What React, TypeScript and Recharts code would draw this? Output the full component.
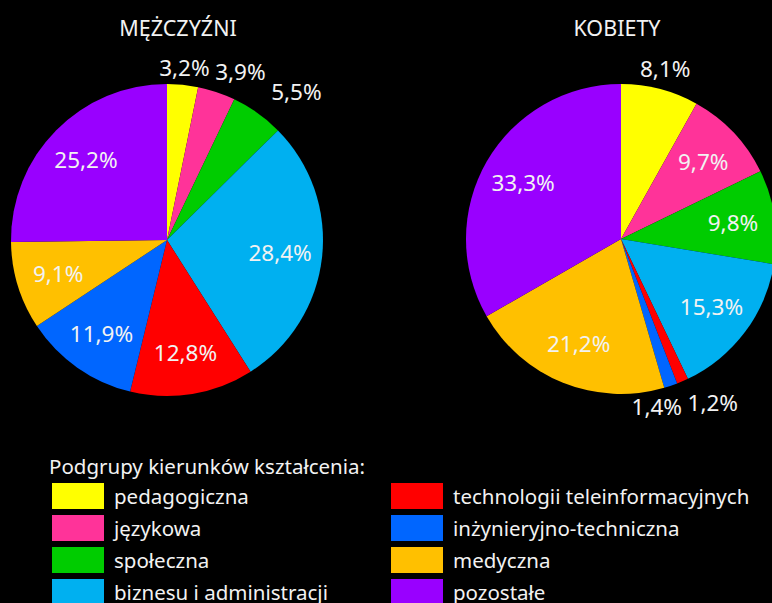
import { PieChart, Pie, Cell } from "recharts";

const CATEGORIES = [
  "pedagogiczna",
  "językowa",
  "społeczna",
  "biznesu i administracji",
  "technologii teleinformacyjnych",
  "inżynieryjno-techniczna",
  "medyczna",
  "pozostałe",
];
const COLORS = ["#FFFF00", "#FF3399", "#00CC00", "#00B0F0", "#FF0000", "#0066FF", "#FFC000", "#9900FF"];
const MEN = [3.2, 3.9, 5.5, 28.4, 12.8, 11.9, 9.1, 25.2];
const WOMEN = [8.1, 9.7, 9.8, 15.3, 1.2, 1.4, 21.2, 33.3];

const FONT = "'Noto Sans', 'Open Sans', sans-serif";
const RAD = Math.PI / 180;
const LABEL_SIZE = 22.5;
const BOX_W = 52;
const BOX_H = 24;

const fmt = (v: number) => v.toFixed(1).replace(".", ",") + "%";

// Work out label centres: big slices inside, small ones outside, nudged apart when they collide
function layoutLabels(values: number[], cx: number, cy: number, r: number) {
  const total = values.reduce((a, b) => a + b, 0);
  let acc = 0;
  const out: { x: number; y: number; outside: boolean; dir: number }[] = [];
  values.forEach((v) => {
    const a = ((acc + v / 2) / total) * 360 * RAD; // clockwise from top
    acc += v;
    const dx = Math.sin(a);
    const dy = -Math.cos(a);
    if (v < 9) {
      const dist = r + 5 + 22 * Math.abs(dx) + 10.5 * Math.abs(dy);
      out.push({ x: cx + dist * dx, y: cy + dist * dy, outside: true, dir: Math.cos(a) >= 0 ? 1 : -1 });
    } else {
      const k = r * 0.73;
      out.push({ x: cx + k * dx, y: cy + k * dy, outside: false, dir: 0 });
    }
  });
  for (let i = 1; i < out.length; i++) {
    const p = out[i - 1];
    const c = out[i];
    if (!p.outside || !c.outside) continue;
    if (Math.abs(p.y - c.y) >= BOX_H) continue;
    const overlap = BOX_W + 4 - Math.abs(p.x - c.x);
    if (overlap <= 0) continue;
    if (values[i] < 2 && values[i - 1] < 2) {
      p.x -= (c.dir * overlap) / 2;
      c.x += (c.dir * overlap) / 2;
    } else {
      c.x += c.dir * overlap;
    }
  }
  return out;
}

function makeLabel(values: number[], cx: number, cy: number, r: number) {
  const pos = layoutLabels(values, cx, cy, r);
  return (props: any) => {
    const p = pos[props.index];
    return (
      <text
        x={p.x}
        y={p.y}
        fill="#F2F2F2"
        fontSize={LABEL_SIZE}
        fontFamily={FONT}
        textAnchor="middle"
        dominantBaseline="central"
      >
        {fmt(values[props.index])}
      </text>
    );
  };
}

const menData = CATEGORIES.map((name, i) => ({ name, value: MEN[i] }));
const womenData = CATEGORIES.map((name, i) => ({ name, value: WOMEN[i] }));

const titleStyle: React.CSSProperties = {
  position: "absolute",
  top: 13,
  fontSize: 21.5,
  color: "#F2F2F2",
  fontFamily: FONT,
  transform: "translateX(-50%)",
  whiteSpace: "nowrap",
};

export default function App() {
  return (
    <div style={{ position: "absolute", left: 0, top: 0, width: 772, height: 603, background: "#000", overflow: "hidden", fontFamily: FONT }}>
      <div style={{ ...titleStyle, left: 178 }}>MĘŻCZYŹNI</div>
      <div style={{ ...titleStyle, left: 617 }}>KOBIETY</div>
      <div style={{ position: "absolute", left: 0, top: 0 }}>
        <PieChart width={772} height={440} margin={{ top: 0, right: 0, bottom: 0, left: 0 }}>
          <Pie
            data={menData}
            dataKey="value"
            nameKey="name"
            cx={167}
            cy={240}
            outerRadius={156}
            startAngle={90}
            endAngle={-270}
            stroke="none"
            labelLine={false}
            label={makeLabel(MEN, 167, 240, 156)}
            isAnimationActive={false}
          >
            {menData.map((_, i) => <Cell key={i} fill={COLORS[i]} />)}
          </Pie>
          <Pie
            data={womenData}
            dataKey="value"
            nameKey="name"
            cx={621}
            cy={239}
            outerRadius={155}
            startAngle={90}
            endAngle={-270}
            stroke="none"
            labelLine={false}
            label={makeLabel(WOMEN, 621, 239, 155)}
            isAnimationActive={false}
          >
            {womenData.map((_, i) => <Cell key={i} fill={COLORS[i]} />)}
          </Pie>
        </PieChart>
      </div>
      <div style={{ position: "absolute", left: 49, top: 452, fontSize: 20.5, color: "#F2F2F2", lineHeight: "28px", whiteSpace: "nowrap" }}>
        Podgrupy kierunków kształcenia:
      </div>
      {CATEGORIES.map((name, i) => {
        const col = Math.floor(i / 4);
        const row = i % 4;
        const left = col === 0 ? 52 : 391;
        const top = 483 + row * 32;
        return (
          <div key={name} style={{ position: "absolute", left, top, height: 26, display: "flex", alignItems: "center" }}>
            <div style={{ width: 52, height: 26, background: COLORS[i] }} />
            <div style={{ marginLeft: 10, fontSize: 20.5, color: "#F2F2F2", whiteSpace: "nowrap", lineHeight: "26px" }}>{name}</div>
          </div>
        );
      })}
    </div>
  );
}
